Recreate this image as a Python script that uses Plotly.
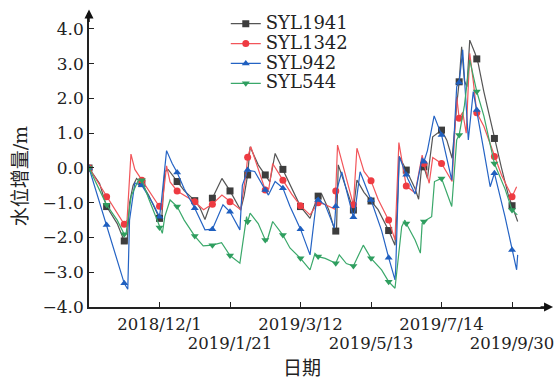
import numpy as np
import plotly.graph_objects as go

# ---------------- data (x = observation index, y = water level increment, m) -------------
tick_pos = [20, 40, 60, 80, 100, 120]
tick_labels = ["2018/12/1", "2019/1/21", "2019/3/12", "2019/5/13", "2019/7/14", "2019/9/30"]

names = ["SYL1941", "SYL1342", "SYL942", "SYL544"]

x_1941 = [0, 3, 5, 8, 10, 10.8, 11.5, 12.5, 13.5, 15, 17, 20, 20.6, 21.5, 22.5, 25, 27, 30, 31.5,
          32.9, 35, 37.7, 40, 43, 44, 45, 45.7, 48, 50, 51.3, 52.8, 55, 57.5, 60, 62.7, 63.5, 65,
          66, 68, 69.8, 70.2, 70.7, 73, 75, 76, 78, 82, 85, 86.8, 87.5, 88, 90, 92.5, 93.5, 94.5,
          96, 97.5, 100, 101.5, 103, 104.5, 105, 105.7, 106.5, 107.2, 108, 109.5, 110.4, 112, 114,
          115.2, 117, 119, 121.6]
y_1941 = [0.0, -0.45, -1.11, -1.6, -2.10, -2.15, -1.0, -0.5, -0.3, -0.45, -0.8, -1.45, -1.5, -0.1,
          -0.05, -0.39, -0.65, -0.94, -1.15, -1.48, -0.87, -0.30, -0.66, -1.21, -0.8, -0.2, 0.61,
          0.09, -0.2, -0.4, 0.42, -0.04, -0.55, -1.11, -1.45, -1.2, -0.81, -0.75, -1.2, -1.83, -1.8,
          0.09, -0.6, -1.21, -0.35, -0.7, -1.2, -1.80, -2.22, -1.0, 0.33, -0.06, -0.6, -0.9, 0.2,
          -0.3, 0.9, 1.09, 0.8, 0.28, 2.0, 2.48, 3.49, 2.5, 2.34, 3.68, 3.30, 3.01, 2.2, 1.3, 0.76,
          0.0, -0.8, -1.54]

x_1342 = [0, 5, 8, 10, 10.8, 11.9, 13, 15, 20, 20.6, 22, 23, 25, 30, 32.5, 35, 37.7, 40, 43, 44.5,
          45, 45.9, 48, 50, 51, 52.1, 55, 57.5, 60, 62.7, 65, 67, 69.8, 70.5, 73, 75, 76, 78, 80,
          82, 85, 86.8, 87.9, 90, 92.5, 94.5, 95, 96.5, 97.5, 100, 103, 104.3, 105, 106, 107, 108,
          109, 110, 112, 115, 117, 120, 121.3]
y_1342 = [0.0, -0.83, -1.3, -1.62, -1.5, 0.40, -0.04, -0.35, -1.1, -1.21, 0.06, -0.4, -0.66,
          -0.97, -1.2, -1.04, -0.78, -0.97, -1.2, -0.2, 0.31, 0.61, 0.0, -0.63, -0.6, 0.13, -0.35,
          -0.75, -1.09, -1.35, -1.0, -1.05, -1.19, 0.66, -0.3, -1.06, 0.57, -0.1, -0.37, -0.9,
          -1.50, -2.07, 0.73, -0.52, -0.72, 0.37, 0.13, -0.44, 0.3, 0.13, -0.39, 2.05, 1.43, 1.6,
          1.0, 3.30, 2.5, 1.59, 1.2, 0.33, -0.2, -0.83, -0.54]

x_942 = [0, 5, 8, 10, 11, 11.5, 13, 15, 18, 20, 20.5, 22, 23.6, 25, 27, 30, 32.9, 35, 38, 40, 42.8,
         43.5, 45, 47, 50, 50.9, 52.8, 55, 57, 60, 62.7, 64.6, 65, 67, 69.6, 70.3, 71.7, 75, 75.5,
         76.9, 80, 83, 85, 86.8, 87, 88, 90.4, 92.5, 94.5, 95, 96, 97.9, 100, 102.9, 104.3, 105,
         106, 107.6, 109, 110, 112, 113.8, 115, 118, 120, 121.3, 121.6]
y_942 = [0.0, -1.64, -2.6, -3.32, -3.49, -1.5, -0.43, -0.5, -1.0, -1.40, -1.0, 0.50, 0.13, -0.13,
         -0.6, -1.16, -1.78, -1.76, -1.06, -1.26, -1.78, -0.5, -0.06, -0.1, -0.63, -0.78, -0.39,
         -0.58, -1.1, -1.76, -2.50, -0.87, -0.92, -1.06, -1.73, -0.63, -0.11, -1.42, -1.2, -0.11,
         -0.92, -1.8, -2.58, -3.22, -2.9, 0.33, -0.30, -0.75, 0.29, 0.18, 0.5, 1.50, 0.95, -0.35,
         2.34, 2.46, 3.40, 0.81, 2.20, 1.67, 0.5, -0.54, -0.15, -1.4, -2.36, -2.93, -2.5]

x_544 = [0, 5, 8, 10, 10.5, 12, 14, 15, 17, 19.9, 20.8, 21.5, 23, 25, 27, 30, 32.4, 35, 37.6, 40,
         42.8, 44.7, 45, 45.7, 48, 50, 50.5, 52.1, 55, 57, 60, 62.7, 64.1, 65, 67, 70, 71, 73, 75,
         77.8, 80, 83, 85, 86.8, 88.7, 89.6, 90, 92.5, 94, 94.5, 95, 97.2, 98, 100, 102.9, 104.3,
         105, 106.5, 108, 110, 112, 115, 118, 120, 121.5]
y_544 = [0.0, -1.06, -1.5, -1.91, -1.9, -0.8, -0.35, -0.35, -0.9, -1.69, -1.88, -1.4, -0.92, -1.11,
         -1.5, -1.96, -2.24, -2.22, -2.15, -2.52, -2.74, -1.40, -1.55, -1.30, -1.6, -2.07, -2.1,
         -1.54, -1.93, -2.3, -2.60, -2.93, -2.46, -2.55, -2.6, -2.74, -2.50, -2.75, -2.82, -2.22,
         -2.60, -2.93, -3.27, -3.46, -1.69, -1.50, -1.6, -2.07, -2.45, -1.6, -1.54, -1.40, -0.39,
         -0.30, -1.11, 0.81, 0.95, 1.8, 3.11, 2.20, 1.5, 0.13, -0.6, -1.21, -1.35]

marker_x = list(range(0, 121, 5))

# ---------------- styling -------------
FONT = "DejaVu Serif"
CJK = "DejaVu Serif, Noto Sans CJK SC"
line_colors = ["#555555", "#f2555a", "#2463c4", "#3aa86a"]
marker_colors = ["#3d3d3d", "#ee3b42", "#1f5fbf", "#2f9e5f"]
symbols = ["square", "circle", "triangle-up", "triangle-down"]
series_x = [x_1941, x_1342, x_942, x_544]
series_y = [y_1941, y_1342, y_942, y_544]

fig = go.Figure()
for name, xs, ys, lc, mc, sym in zip(names, series_x, series_y, line_colors, marker_colors, symbols):
    fig.add_trace(go.Scatter(x=xs, y=ys, mode="lines", line=dict(color=lc, width=1.2),
                             showlegend=False, hoverinfo="skip"))
    my = np.interp(marker_x, xs, ys)
    fig.add_trace(go.Scatter(x=marker_x, y=my, mode="markers",
                             marker=dict(symbol=sym, color=mc, size=7), showlegend=False))
for name, lc, mc, sym in zip(names, line_colors, marker_colors, symbols):
    fig.add_trace(go.Scatter(x=[None], y=[None], mode="lines+markers", name=
                             '<span style="font-size:18px">' + name + '</span>',
                             line=dict(color=lc, width=1.2),
                             marker=dict(symbol=sym, color=mc, size=7)))

ticktext = [('' if i % 2 == 0 else '<br>') + '<span style="font-size:16.5px">' + t + '</span>'
            for i, t in enumerate(tick_labels)]

fig.update_layout(
    width=558, height=379,
    margin=dict(l=89, r=10, t=13, b=72, autoexpand=False),
    paper_bgcolor="white", plot_bgcolor="white",
    font=dict(family=FONT, color="#222222", size=17),
    xaxis=dict(range=[0, 130.2], tickmode="array", tickvals=tick_pos, ticktext=ticktext,
               tickangle=0, automargin=False, ticklabelstandoff=4,
               showgrid=False, zeroline=False, showline=True, linecolor="#222222", linewidth=1.5,
               ticks="inside", ticklen=5, tickwidth=1.2, tickcolor="#222222",
               tickfont=dict(size=14.6, family=FONT)),
    yaxis=dict(range=[-4, 4.46], tickmode="array", tickvals=[-4, -3, -2, -1, 0, 1, 2, 3, 4],
               tickformat=".1f", showgrid=False, zeroline=False, showline=True, automargin=False,
               linecolor="#222222", linewidth=1.5, ticks="inside", ticklen=5, tickwidth=1.2,
               tickcolor="#222222", tickfont=dict(size=17, family=FONT)),
    legend=dict(x=0.298, y=0.977, xanchor="left", yanchor="top", yref="container",
                bgcolor="rgba(0,0,0,0)",
                font=dict(size=13, family=FONT), tracegroupgap=0),
    annotations=[
        dict(text="水位增量/m", xref="paper", yref="paper", x=-0.150, y=0.445, textangle=-90,
             showarrow=False, font=dict(size=19, family=CJK),
             xanchor="center", yanchor="middle"),
        dict(text="日期", xref="paper", yref="paper", x=0.464, y=-0.207, showarrow=False,
             font=dict(size=19, family=CJK), xanchor="center", yanchor="middle"),
        dict(text="", xref="paper", yref="paper", x=0, y=1.012, ax=0, ay=14, showarrow=True,
             arrowhead=2, arrowsize=1.2, arrowwidth=1.5, arrowcolor="#111111"),
        dict(text="", xref="paper", yref="paper", x=1.011, y=0, ax=-14, ay=0, showarrow=True,
             arrowhead=2, arrowsize=1.2, arrowwidth=1.5, arrowcolor="#111111"),
    ],
)

fig.write_html("out.html", config={"displayModeBar": False},
               post_script="document.body.style.margin='0';")
